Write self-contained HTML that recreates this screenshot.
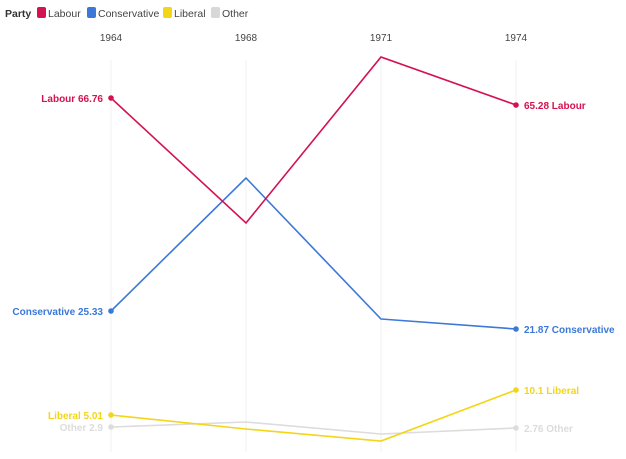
<!DOCTYPE html>
<html><head><style>
body{margin:0;background:#fff;width:626px;height:454px;overflow:hidden;font-family:"Liberation Sans",sans-serif}
</style></head><body>
<svg width="626" height="454" xmlns="http://www.w3.org/2000/svg" font-family="Liberation Sans, sans-serif">
<text x="5" y="17" font-size="10.5" font-weight="bold" fill="#333">Party</text>
<rect x="37" y="7" width="9" height="11" rx="2" fill="#d4124f"/><text x="48" y="17" font-size="10.5" fill="#444">Labour</text>
<rect x="87" y="7" width="9" height="11" rx="2" fill="#3b78d8"/><text x="98" y="17" font-size="10.5" fill="#444">Conservative</text>
<rect x="163" y="7" width="9" height="11" rx="2" fill="#f2d617"/><text x="174" y="17" font-size="10.5" fill="#444">Liberal</text>
<rect x="211" y="7" width="9" height="11" rx="2" fill="#d8d8d8"/><text x="222" y="17" font-size="10.5" fill="#444">Other</text>
<g font-size="10" fill="#444" text-anchor="middle">
<text x="111" y="41">1964</text><text x="246" y="41">1968</text><text x="381" y="41">1971</text><text x="516" y="41">1974</text></g>
<g stroke="#f2f2f2" stroke-width="1">
<line x1="111" y1="60" x2="111" y2="452"/><line x1="246" y1="60" x2="246" y2="452"/><line x1="381" y1="60" x2="381" y2="452"/><line x1="516" y1="60" x2="516" y2="452"/></g>
<g fill="none" stroke-width="1.6">
<polyline stroke="#dcdcdc" points="111,427 246,422 381,434 516,428"/>
<polyline stroke="#f2d617" points="111,415 246,429 381,441 516,390"/>
<polyline stroke="#3b78d8" points="111,311 246,178 381,319 516,329"/>
<polyline stroke="#d4124f" points="111,98 246,223 381,57 516,105"/>
</g>
<circle cx="111" cy="427" r="2.8" fill="#dcdcdc"/><circle cx="516" cy="428" r="2.8" fill="#dcdcdc"/>
<circle cx="111" cy="415" r="2.8" fill="#f2d617"/><circle cx="516" cy="390" r="2.8" fill="#f2d617"/>
<circle cx="111" cy="311" r="2.8" fill="#3b78d8"/><circle cx="516" cy="329" r="2.8" fill="#3b78d8"/>
<circle cx="111" cy="98" r="2.8" fill="#d4124f"/><circle cx="516" cy="105" r="2.8" fill="#d4124f"/>
<g font-size="10" font-weight="bold">
<text x="103" y="102" text-anchor="end" fill="#d4124f">Labour 66.76</text>
<text x="524" y="109" fill="#d4124f">65.28 Labour</text>
<text x="103" y="315" text-anchor="end" fill="#3b78d8">Conservative 25.33</text>
<text x="524" y="333" fill="#3b78d8">21.87 Conservative</text>
<text x="103" y="419" text-anchor="end" fill="#f2d617">Liberal 5.01</text>
<text x="524" y="394" fill="#f2d617">10.1 Liberal</text>
<text x="103" y="431" text-anchor="end" fill="#dcdcdc">Other 2.9</text>
<text x="524" y="432" fill="#dcdcdc">2.76 Other</text>
</g>
</svg>
</body></html>
